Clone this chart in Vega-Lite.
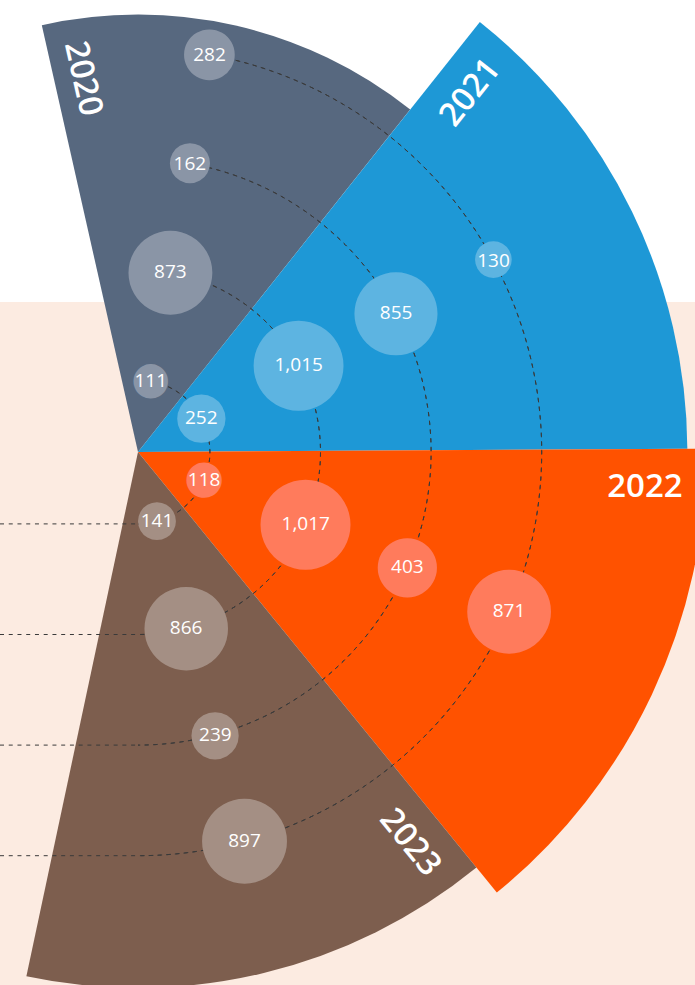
{
  "$schema": "https://vega.github.io/schema/vega-lite/v6.json",
  "width": 276,
  "height": 904,
  "autosize": "none",
  "padding": {"left": 0, "top": 0, "right": 419, "bottom": 81},
  "background": "#ffffff",
  "config": {"view": {"stroke": null}},
  "data": {"values": [
    {"year": 2020, "ring": 1, "value": 111}, {"year": 2020, "ring": 2, "value": 873}, {"year": 2020, "ring": 3, "value": 162}, {"year": 2020, "ring": 4, "value": 282},
    {"year": 2021, "ring": 1, "value": 252}, {"year": 2021, "ring": 2, "value": 1015}, {"year": 2021, "ring": 3, "value": 855}, {"year": 2021, "ring": 4, "value": 130},
    {"year": 2022, "ring": 1, "value": 118}, {"year": 2022, "ring": 2, "value": 1017}, {"year": 2022, "ring": 3, "value": 403}, {"year": 2022, "ring": 4, "value": 871},
    {"year": 2023, "ring": 1, "value": 141}, {"year": 2023, "ring": 2, "value": 866}, {"year": 2023, "ring": 3, "value": 239}, {"year": 2023, "ring": 4, "value": 897}
  ]},
  "resolve": {"scale": {"y": "independent", "theta": "independent", "radius": "independent", "color": "independent"}},
  "layer": [
    {
      "data": {"values": [{"band": "peach"}]},
      "mark": {"type": "rect", "color": "#FCEBE1"},
      "encoding": {
        "x": {"datum": -138, "type": "quantitative", "scale": {"type": "linear", "domain": [-138, 138], "nice": false, "zero": false}, "axis": null},
        "x2": {"datum": 557},
        "y": {"datum": -150, "type": "quantitative", "scale": {"type": "linear", "domain": [-452, 452], "nice": false, "zero": false, "reverse": true}, "axis": null},
        "y2": {"datum": 533}
      }
    },
    {
      "transform": [
        {"aggregate": [{"op": "count", "as": "n"}, {"op": "sum", "field": "value", "as": "total"}], "groupby": ["year"]},
        {"stack": "n", "groupby": [], "sort": [{"field": "year", "order": "ascending"}], "as": ["t0", "t1"]}
      ],
      "mark": {"type": "arc"},
      "encoding": {
        "theta": {"field": "t0", "type": "quantitative", "stack": null, "scale": {"type": "linear", "domain": [0, 16], "range": [-0.2216568, 3.3513808]}},
        "theta2": {"field": "t1"},
        "radius": {"field": "total", "type": "quantitative", "scale": {"type": "sqrt", "domain": [0, 2409], "range": [0, 568.2], "nice": false}},
        "color": {"field": "year", "type": "nominal", "scale": {"domain": [2020, 2021, 2022, 2023], "range": ["#57687F", "#1E98D6", "#FF5200", "#7D5E4E"]}, "legend": null}
      }
    },
    {
      "transform": [
        {"aggregate": [{"op": "count", "as": "n"}, {"op": "sum", "field": "value", "as": "total"}], "groupby": ["year"]},
        {"stack": "n", "groupby": [], "sort": [{"field": "year", "order": "ascending"}], "as": ["t0", "t1"]}
      ],
      "mark": {"type": "text", "font": "Open Sans", "fontSize": 33, "fontWeight": 600, "color": "#ffffff", "align": "center", "baseline": "middle", "radiusOffset": -60, "thetaOffset": 0.075},
      "encoding": {
        "theta": {"field": "t0", "type": "quantitative", "stack": null, "scale": {"type": "linear", "domain": [0, 16], "range": [-0.2216568, 3.3513808]}},
        "radius": {"field": "total", "type": "quantitative", "scale": {"type": "sqrt", "domain": [0, 2409], "range": [0, 568.2], "nice": false}},
        "text": {"field": "year", "type": "nominal"},
        "angle": {"condition": [
          {"test": "datum.year == 2020", "value": 77.3},
          {"test": "datum.year == 2021", "value": 308.3},
          {"test": "datum.year == 2023", "value": 50.9}
        ], "value": 0}
      }
    },
    {
      "transform": [{"filter": "datum.year == 2020"}],
      "mark": {"type": "rule", "color": "#3a3a3a", "strokeWidth": 1, "strokeDash": [4, 4.740553]},
      "encoding": {
        "x": {"datum": -138, "type": "quantitative", "scale": {"type": "linear", "domain": [-138, 138], "nice": false, "zero": false}, "axis": null},
        "x2": {"datum": 0},
        "y": {"field": "ring", "type": "quantitative", "scale": {"type": "linear", "domain": [1, 4], "range": [523.9, 855.7], "nice": false, "zero": false}, "axis": null}
      }
    },
    {
      "transform": [{"filter": "datum.year == 2020"}],
      "mark": {"type": "arc", "filled": false, "color": "#3a3a3a", "strokeWidth": 1, "strokeDash": [4, 4.740553], "strokeDashOffset": -1.3074},
      "encoding": {
        "theta": {"field": "year", "type": "quantitative", "stack": null, "scale": {"type": "linear", "domain": [2020, 2023], "range": [0.178024, 2.874557]}},
        "theta2": {"value": 3.141592653589793},
        "radius": {"field": "ring", "type": "quantitative", "scale": {"type": "linear", "domain": [1, 4], "range": [71.9, 403.7], "nice": false, "zero": false}},
        "radius2": {"field": "ring"}
      }
    },
    {
      "transform": [{"filter": "datum.value < 500"}],
      "mark": {"type": "text", "font": "DejaVu Sans", "align": "center", "baseline": "middle", "dy": -2.2},
      "encoding": {
        "theta": {"field": "year", "type": "quantitative", "scale": {"type": "linear", "domain": [2020, 2023], "range": [0.178024, 2.874557]}},
        "radius": {"field": "ring", "type": "quantitative", "scale": {"type": "linear", "domain": [1, 4], "range": [71.9, 403.7], "nice": false, "zero": false}},
        "text": {"value": "●"},
        "size": {"field": "value", "type": "quantitative", "scale": {"type": "sqrt", "domain": [0, 1017], "range": [9.237, 117.83]}, "legend": null},
        "color": {"field": "year", "type": "nominal", "scale": {"domain": [2020, 2021, 2022, 2023], "range": ["#8A95A6", "#5DB4E1", "#FF7B5C", "#A48F84"]}, "legend": null}
      }
    },
    {
      "transform": [{"filter": "datum.value >= 500"}],
      "mark": {"type": "text", "font": "DejaVu Sans", "align": "center", "baseline": "middle", "dy": -4.3},
      "encoding": {
        "theta": {"field": "year", "type": "quantitative", "scale": {"type": "linear", "domain": [2020, 2023], "range": [0.178024, 2.874557]}},
        "radius": {"field": "ring", "type": "quantitative", "scale": {"type": "linear", "domain": [1, 4], "range": [71.9, 403.7], "nice": false, "zero": false}},
        "text": {"value": "●"},
        "size": {"field": "value", "type": "quantitative", "scale": {"type": "sqrt", "domain": [0, 1017], "range": [9.237, 117.83]}, "legend": null},
        "color": {"field": "year", "type": "nominal", "scale": {"domain": [2020, 2021, 2022, 2023], "range": ["#8A95A6", "#5DB4E1", "#FF7B5C", "#A48F84"]}, "legend": null}
      }
    },
    {
      "mark": {"type": "text", "font": "Open Sans", "fontSize": 19, "fontWeight": 500, "color": "#ffffff", "align": "center", "baseline": "middle"},
      "encoding": {
        "theta": {"field": "year", "type": "quantitative", "scale": {"type": "linear", "domain": [2020, 2023], "range": [0.178024, 2.874557]}},
        "radius": {"field": "ring", "type": "quantitative", "scale": {"type": "linear", "domain": [1, 4], "range": [71.9, 403.7], "nice": false, "zero": false}},
        "text": {"field": "value", "type": "quantitative", "format": ","}
      }
    }
  ]
}
